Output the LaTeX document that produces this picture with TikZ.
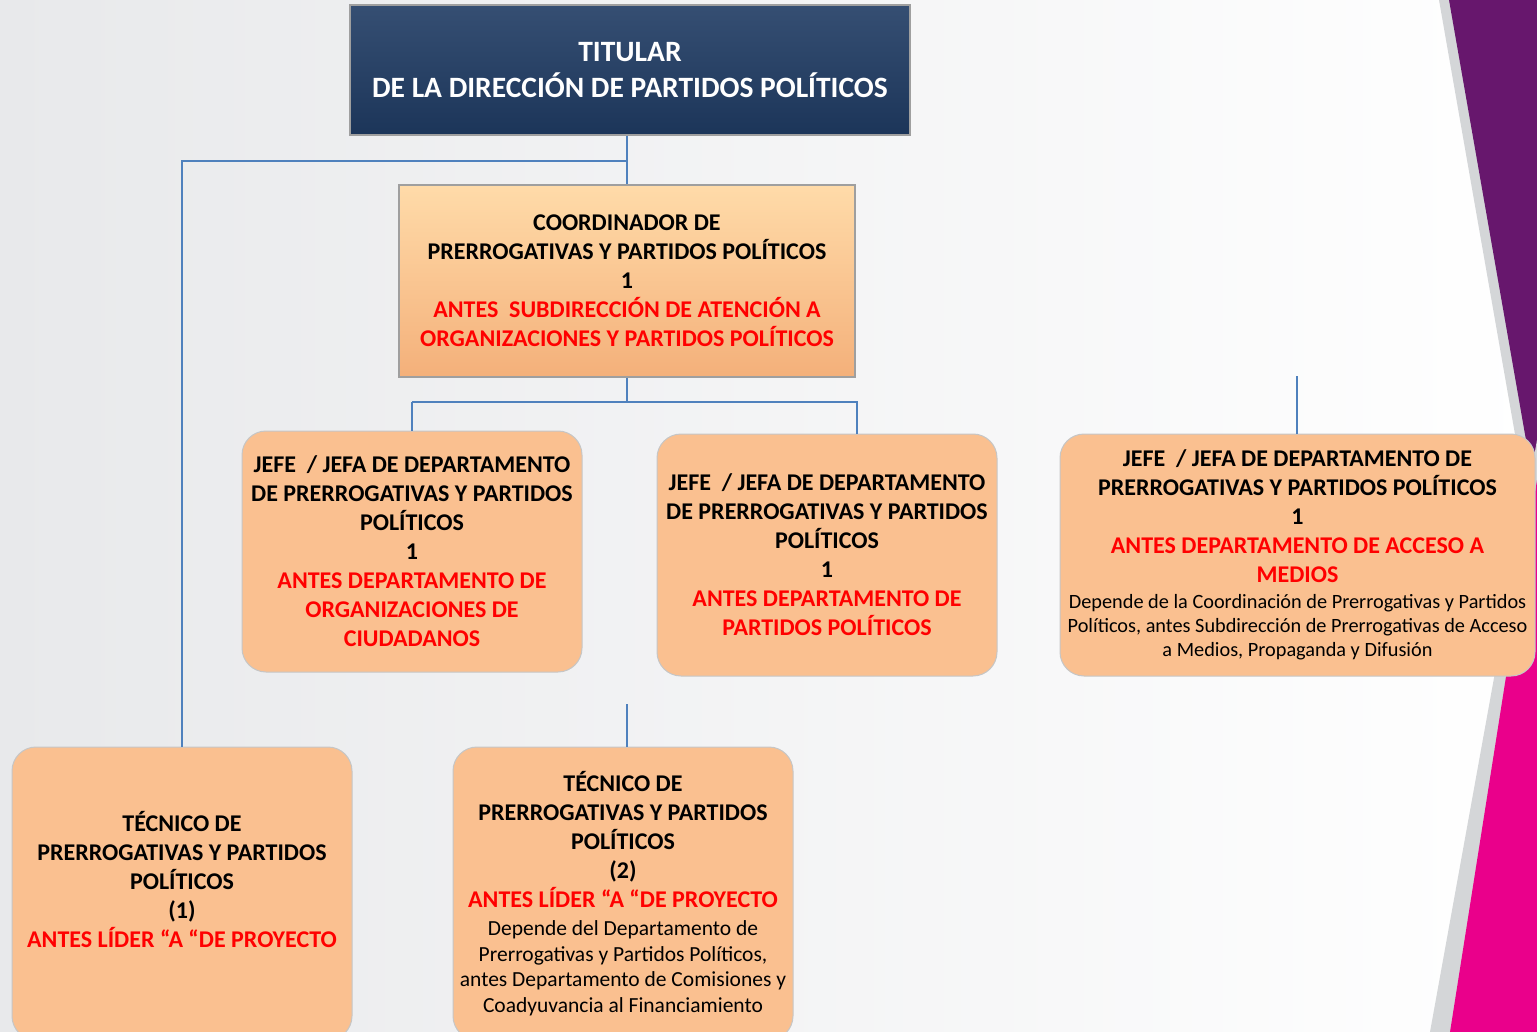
\documentclass[tikz,border=0pt]{standalone}
\usepackage{fontspec}
\setmainfont{Carlito}
\definecolor{navybox}{HTML}{1F3B63}
\definecolor{peach}{HTML}{FAC090}
\definecolor{peachtop}{HTML}{FFDBA9}
\definecolor{peachbot}{HTML}{F4B07A}
\definecolor{linkblue}{HTML}{4F81BD}
\definecolor{bggray}{HTML}{E8E9EB}
\definecolor{stripegray}{HTML}{D4D6D8}
\definecolor{decopurple}{HTML}{67176D}
\definecolor{decomagenta}{HTML}{EA008B}
\newcommand{\antes}[1]{\textcolor{red}{#1}}
\newcommand{\smalltxt}[2][20.3]{{\fontsize{#1}{24.5}\selectfont\mdseries #2}}

\begin{document}
\begin{tikzpicture}[x=1pt, y=-1pt,
     every node/.style={font=\fontsize{24}{29}\selectfont\bfseries, align=center, inner sep=0pt},
     headbox/.style={rectangle, draw=gray!75, line width=1.5pt, text=white,
        top color=navybox!90!white, middle color=navybox, bottom color=navybox!90!black,
        minimum width=560pt, minimum height=130pt, font=\fontsize{29.5}{36}\selectfont\bfseries},
     coorbox/.style={rectangle, draw=gray!75, line width=1.5pt,
        top color=peachtop, middle color=peach!90!peachtop, bottom color=peachbot,
        minimum width=456pt, minimum height=192pt},
     deptbox/.style={rectangle, rounded corners=24pt, draw=gray!45, line width=1pt, fill=peach,
        minimum width=340pt, minimum height=242pt},
     link/.style={draw=linkblue, line width=1.6pt}]

   \useasboundingbox (0,0) rectangle (1537,1032);
   \shade[left color=bggray, right color=white] (0,0) rectangle (1537,1032);

   % corner decoration
   \fill[stripegray] (1439,0) -- (1537,0) -- (1537,560) -- cycle;
   \fill[decopurple] (1449,0) -- (1537,0) -- (1537,503) -- cycle;
   \fill[stripegray] (1537,440) -- (1537,1032) -- (1430,1032) -- cycle;
   \fill[decomagenta] (1537,480) -- (1537,1032) -- (1450,1032) -- cycle;

   \node[headbox] (titular) at (630,70) {TITULAR\\DE LA DIRECCIÓN DE PARTIDOS POLÍTICOS};

   \node[coorbox] (coord) at (627,281) {COORDINADOR DE\\PRERROGATIVAS Y PARTIDOS POLÍTICOS\\1\\
     \antes{ANTES~~SUBDIRECCIÓN DE ATENCIÓN A}\\\antes{ORGANIZACIONES Y PARTIDOS POLÍTICOS}};

   \node[deptbox, minimum height=241pt] (jefe1) at (412,551.5) {JEFE~~/ JEFA DE DEPARTAMENTO\\DE PRERROGATIVAS Y PARTIDOS\\POLÍTICOS\\1\\
     \antes{ANTES DEPARTAMENTO DE}\\\antes{ORGANIZACIONES DE}\\\antes{CIUDADANOS}};

   \node[deptbox] (jefe2) at (827,555) {JEFE~~/ JEFA DE DEPARTAMENTO\\DE PRERROGATIVAS Y PARTIDOS\\POLÍTICOS\\1\\
     \antes{ANTES DEPARTAMENTO DE}\\\antes{PARTIDOS POLÍTICOS}};

   \node[deptbox, minimum width=475pt] (jefe3) at (1297.5,555) {JEFE~~/ JEFA DE DEPARTAMENTO DE\\PRERROGATIVAS Y PARTIDOS POLÍTICOS\\1\\
     \antes{ANTES DEPARTAMENTO DE ACCESO A}\\\antes{MEDIOS}\\[-3pt]
     \smalltxt{Depende de la Coordinación de Prerrogativas y Partidos}\\[-5pt]
     \smalltxt{Políticos, antes Subdirección de Prerrogativas de Acceso}\\[-5pt]
     \smalltxt{a Medios, Propaganda y Difusión}};

   \node[deptbox, minimum height=293pt] (tec1) at (182,893.5) {TÉCNICO DE\\PRERROGATIVAS Y PARTIDOS\\POLÍTICOS\\(1)\\
     \antes{ANTES LÍDER “A “DE PROYECTO}\\~};

   \node[deptbox, minimum height=293pt] (tec2) at (623,893.5) {TÉCNICO DE\\PRERROGATIVAS Y PARTIDOS\\POLÍTICOS\\(2)\\
     \antes{ANTES LÍDER “A “DE PROYECTO}\\[-1pt]
     \smalltxt[21.5]{Depende del Departamento de}\\[-3.5pt]
     \smalltxt[21.5]{Prerrogativas y Partidos Políticos,}\\[-3.5pt]
     \smalltxt[21.5]{antes Departamento de Comisiones y}\\[-3.5pt]
     \smalltxt[21.5]{Coadyuvancia al Financiamiento}};

   \coordinate (split) at (627,161);
   \coordinate (bus) at (627,402);
   \coordinate (stub3) at (1297,376);
   \coordinate (stub4) at (627,704);

   \draw[link] (titular.south -| coord.north) -- (coord.north);
   \draw[link] (split) -| (tec1.north);
   \draw[link] (coord.south) -- (bus);
   \draw[link] (bus -| jefe1.north) -- (jefe1.north);
   \draw[link] (bus -| jefe1.north) -- ([xshift=30pt]jefe2.north |- bus) -- ([xshift=30pt]jefe2.north);
   \draw[link] (stub3) -- (stub3 |- jefe3.north);
   \draw[link] (stub4) -- (stub4 |- tec2.north);
\end{tikzpicture}
\end{document}
